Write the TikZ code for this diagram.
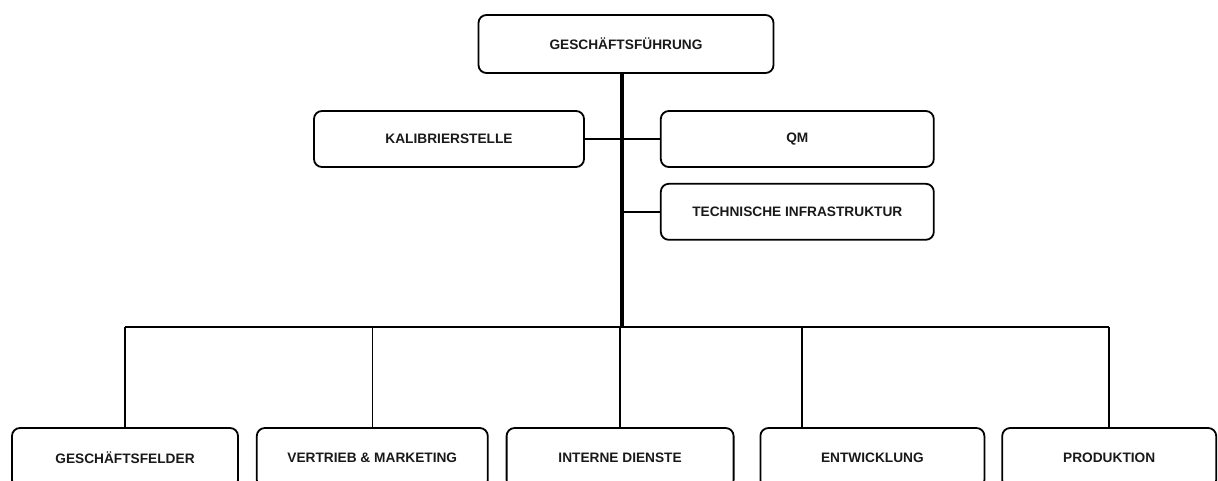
\documentclass[tikz,border=0pt]{standalone}
\usepackage{fontspec}
\setmainfont{Liberation Sans}
\usetikzlibrary{positioning}

\begin{document}
\begin{tikzpicture}[x=1pt, y=-1pt, node distance=15pt and 75pt,
  box/.style={draw, rounded corners=8pt, line width=1.8pt, minimum height=56pt,
    inner sep=0pt, text=black!90, font=\bfseries\fontsize{13.7}{16}\selectfont},
  link/.style={line width=1.6pt},
  trunk/.style={line width=4pt}]

\useasboundingbox (0,0) rectangle (1218,480);
\clip (0,0) rectangle (1218,480);

% Top management
\node[box, minimum width=295pt, minimum height=58pt] (fuehrung) at (626,44) {GESCHÄFTSFÜHRUNG};

% Staff units
\node[box, minimum width=270pt] (kalib) at (449,139) {KALIBRIERSTELLE};
\node[box, minimum width=273pt, right=75pt of kalib] (qm) {QM};
\node[box, minimum width=273pt, below=15pt of qm] (tech) {TECHNISCHE INFRASTRUKTUR};

% Departments
\node[box, minimum width=226pt, minimum height=60pt] (felder) at (125,458) {GESCHÄFTSFELDER};
\node[box, minimum width=231pt, minimum height=60pt, right=17pt of felder] (vertrieb) {VERTRIEB \& MARKETING};
\node[box, minimum width=227pt, minimum height=60pt, right=17pt of vertrieb] (dienste) {INTERNE DIENSTE};
\node[box, minimum width=224pt, minimum height=60pt, right=25pt of dienste] (entw) {ENTWICKLUNG};
\node[box, minimum width=214pt, minimum height=60pt, right=16pt of entw] (prod) {PRODUKTION};

% Connections
\coordinate (bus) at (622,327);
\coordinate (entwdrop) at (802,327);

\draw[trunk] (fuehrung.south -| bus) -- (bus);
\draw[link] (kalib) -- (qm);
\draw[link] (tech.west) -- (tech.west -| bus);
\draw[link] (felder.north |- bus) -- (prod.north |- bus);

\foreach \n in {felder,vertrieb,dienste,prod}
    \draw[link] (\n.north |- bus) -- (\n.north);
\draw[link] (entwdrop) -- (entwdrop |- entw.north);
\end{tikzpicture}
\end{document}
